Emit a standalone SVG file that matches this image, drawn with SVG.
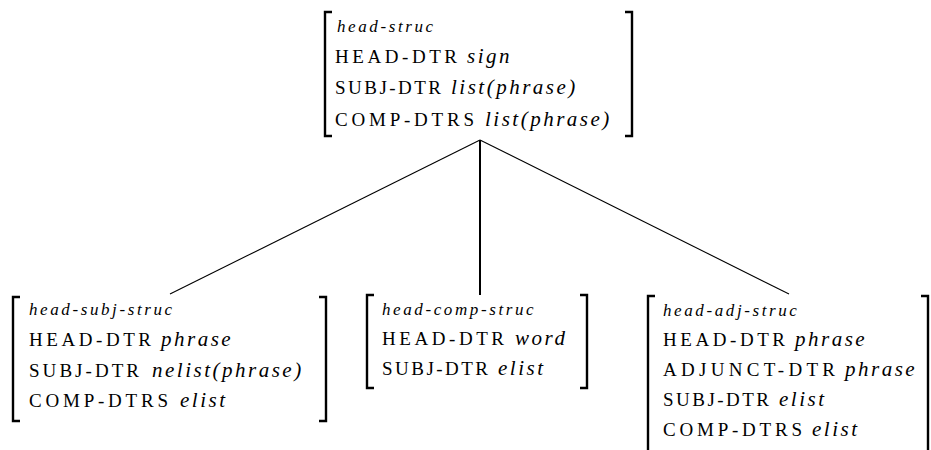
<svg xmlns="http://www.w3.org/2000/svg" width="931" height="450" viewBox="0 0 931 450">
<style>
  .br { fill: none; stroke: #000; stroke-width: 2.4; }
  text { font-family: 'Liberation Serif', serif; fill: #000; }
  .ty { font-style: italic; font-size: 17px; letter-spacing: 2.6px; }
  .ft { font-size: 19px; }
  .vl { font-style: italic; font-size: 21px; letter-spacing: 2.5px; }
  .ln { stroke: #000; stroke-width: 1.1; fill: none; }
  .vt { stroke: #000; stroke-width: 2; fill: none; }
</style>
<rect width="931" height="450" fill="#fff"/>
<g id="connectors">
  <line class="ln" x1="480" y1="140" x2="170" y2="294"/>
  <line class="vt" x1="480" y1="140" x2="480" y2="295"/>
  <line class="ln" x1="480" y1="140" x2="789" y2="294"/>
</g>
<g id="head-struc">
  <path class="br" d="M332 12 H325 V136 H332"/>
  <path class="br" d="M625 12 H632 V136 H625"/>
  <text class="ty" x="337" y="32">head-struc</text>
  <text class="ft" x="335" y="63" textLength="122">HEAD-DTR</text>
  <text class="vl" x="467" y="63">sign</text>
  <text class="ft" x="335" y="94" textLength="106">SUBJ-DTR</text>
  <text class="vl" x="451" y="94">list(phrase)</text>
  <text class="ft" x="335" y="126" textLength="139">COMP-DTRS</text>
  <text class="vl" x="485" y="126">list(phrase)</text>
</g>
<g id="head-subj-struc">
  <path class="br" d="M20 297 H13 V421 H20"/>
  <path class="br" d="M319 297 H326 V421 H319"/>
  <text class="ty" x="29" y="315">head-subj-struc</text>
  <text class="ft" x="29" y="346" textLength="122">HEAD-DTR</text>
  <text class="vl" x="161" y="346">phrase</text>
  <text class="ft" x="29" y="377" textLength="110">SUBJ-DTR</text>
  <text class="vl" x="152" y="377">nelist(phrase)</text>
  <text class="ft" x="29" y="407" textLength="139">COMP-DTRS</text>
  <text class="vl" x="180" y="407">elist</text>
</g>
<g id="head-comp-struc">
  <path class="br" d="M374 295 H367 V388 H374"/>
  <path class="br" d="M580 295 H587 V388 H580"/>
  <text class="ty" x="382" y="315">head-comp-struc</text>
  <text class="ft" x="382" y="345" textLength="122">HEAD-DTR</text>
  <text class="vl" x="515" y="345">word</text>
  <text class="ft" x="382" y="375" textLength="106">SUBJ-DTR</text>
  <text class="vl" x="498" y="375">elist</text>
</g>
<g id="head-adj-struc">
  <path class="br" d="M655 296 H648 V452"/>
  <path class="br" d="M921 296 H928 V452"/>
  <text class="ty" x="663" y="316">head-adj-struc</text>
  <text class="ft" x="663" y="346" textLength="122">HEAD-DTR</text>
  <text class="vl" x="795" y="346">phrase</text>
  <text class="ft" x="663" y="376" textLength="172">ADJUNCT-DTR</text>
  <text class="vl" x="845" y="376">phrase</text>
  <text class="ft" x="663" y="406" textLength="106">SUBJ-DTR</text>
  <text class="vl" x="779" y="406">elist</text>
  <text class="ft" x="663" y="436" textLength="139">COMP-DTRS</text>
  <text class="vl" x="812" y="436">elist</text>
</g>
</svg>
